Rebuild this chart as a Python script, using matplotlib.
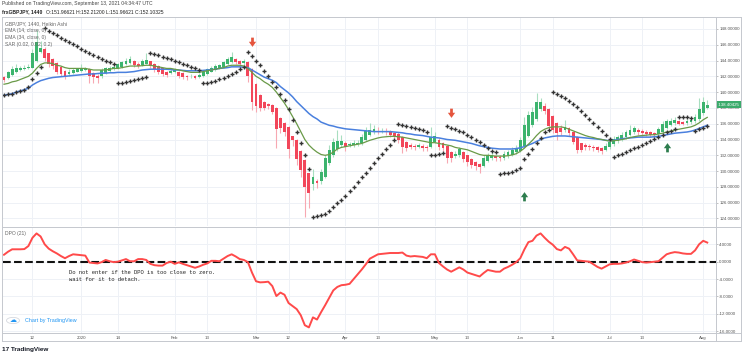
import matplotlib.pyplot as plt
from matplotlib.lines import Line2D
from matplotlib.patches import Circle
from matplotlib.path import Path
from matplotlib.transforms import blended_transform_factory
import numpy as np

plt.rcParams['font.family'] = ['Liberation Sans', 'DejaVu Sans']

# Heikin Ashi candles, one value per daily bar (Dec 2019 .. Aug 2020)
ha_open = [
    141.9, 141.8, 142.2, 142.5, 142.8, 142.9, 143.0, 143.1, 144.0, 145.1,
    145.4, 144.9, 144.2, 143.7, 143.2, 142.7, 142.3, 142.4, 142.6, 142.7,
    142.8, 142.9, 142.4, 142.1, 142.0, 142.4, 142.7, 142.9, 143.0, 143.2,
    143.5, 143.7, 144.0, 143.6, 143.4, 143.6, 143.9, 143.6, 143.3, 143.0,
    142.6, 142.4, 142.5, 142.6, 142.4, 142.1, 142.0, 142.1, 141.9, 142.0,
    142.3, 142.6, 142.8, 143.0, 143.2, 143.5, 143.8, 144.2, 144.0, 143.7,
    143.8, 142.9, 141.0, 139.6, 138.8, 138.5, 138.4, 138.0, 136.7, 136.1,
    135.6, 134.4, 134.0, 132.6, 131.4, 129.7, 128.4, 128.8, 128.7, 129.3,
    131.0, 132.0, 132.8, 133.3, 133.5, 133.25, 133.3, 133.4, 133.5, 134.0,
    134.6, 134.9, 135.1, 135.0, 135.1, 135.0, 134.8, 134.7, 134.3, 133.7,
    133.3, 133.2, 133.1, 133.2, 133.05, 133.0, 133.7, 134.0, 133.5, 133.2,
    132.4, 131.9, 132.0, 132.4, 132.0, 131.5, 131.2, 130.9, 130.7, 131.3,
    131.6, 131.9, 131.8, 131.6, 131.9, 132.1, 132.4, 132.6, 133.2, 134.5,
    135.8, 136.6, 137.8, 138.3, 137.9, 137.0, 136.1, 135.5, 135.2, 135.4,
    135.0, 134.3, 133.5, 133.3, 133.2, 133.1, 133.0, 132.9, 132.7, 133.0,
    133.4, 133.8, 134.0, 134.3, 134.6, 134.9, 135.2, 135.1, 135.0, 134.9,
    134.8, 134.7, 135.0, 135.5, 135.9, 136.1, 136.3, 136.2, 136.1, 136.2,
    136.3, 136.6, 137.3, 138.0,
]
ha_close = [
    141.5, 142.5, 142.9, 143.1, 143.0, 143.1, 143.2, 145.0, 146.3, 145.6,
    144.3, 143.5, 143.3, 142.6, 142.3, 141.9, 142.6, 142.8, 142.9, 142.9,
    143.0, 142.0, 141.9, 141.8, 142.8, 143.0, 143.1, 143.2, 143.5, 143.8,
    144.0, 144.2, 143.4, 143.3, 143.9, 144.1, 143.3, 142.9, 142.6, 142.3,
    142.2, 142.7, 142.8, 142.1, 141.9, 141.9, 142.05, 141.8, 142.2, 142.6,
    142.9, 143.1, 143.3, 143.4, 143.8, 144.2, 144.5, 143.8, 143.5, 143.9,
    142.0, 138.8, 138.2, 138.0, 138.0, 138.2, 137.5, 135.3, 135.5, 135.0,
    132.8, 133.9, 131.5, 130.2, 128.0, 127.2, 129.3, 128.5, 129.9, 131.6,
    132.7, 133.7, 133.8, 133.8, 133.0, 133.4, 133.5, 133.6, 134.3, 135.1,
    135.2, 135.3, 135.0, 135.1, 134.9, 134.6, 134.5, 133.9, 133.1, 132.9,
    133.1, 133.0, 133.3, 132.9, 132.95, 134.3, 134.4, 133.0, 132.9, 131.6,
    131.7, 132.2, 132.8, 131.5, 131.1, 130.8, 130.6, 130.5, 131.7, 132.0,
    132.0, 131.6, 131.6, 132.2, 132.4, 132.7, 132.9, 133.9, 135.8, 137.1,
    137.5, 138.8, 138.8, 137.6, 135.7, 135.2, 134.8, 135.0, 135.6, 134.8,
    133.7, 132.7, 132.7, 133.0, 133.0, 132.9, 132.7, 132.5, 133.2, 133.7,
    134.1, 134.3, 134.6, 134.9, 135.2, 135.4, 134.9, 134.8, 134.7, 134.6,
    134.6, 135.3, 136.0, 136.3, 136.3, 136.5, 136.0, 136.0, 136.3, 136.5,
    136.9, 137.9, 138.7, 138.4,
]
ha_high = [
    142.1, 142.7, 143.3, 143.6, 143.3, 143.4, 143.5, 145.5, 147.9, 146.5,
    145.7, 145.0, 144.3, 143.8, 143.3, 142.8, 142.9, 143.0, 143.1, 143.6,
    143.2, 143.1, 142.5, 142.3, 143.0, 143.2, 143.3, 143.4, 143.7, 144.0,
    144.3, 144.6, 144.1, 143.8, 144.2, 144.9, 144.0, 143.7, 143.4, 143.1,
    142.7, 142.9, 143.0, 142.7, 142.5, 142.2, 142.3, 142.2, 142.4, 142.8,
    143.1, 143.3, 143.5, 143.6, 144.0, 144.5, 145.1, 144.3, 144.1, 144.2,
    143.9, 143.0, 141.1, 139.7, 138.9, 138.6, 138.5, 138.1, 136.8, 136.2,
    135.7, 134.5, 134.1, 132.7, 131.5, 129.8, 130.3, 129.0, 130.3, 132.0,
    133.3, 134.2, 135.2, 134.6, 133.8, 133.7, 133.9, 134.0, 134.7, 135.6,
    136.1, 135.8, 135.6, 135.5, 135.4, 135.2, 135.0, 134.9, 134.4, 133.8,
    133.5, 133.4, 133.6, 133.4, 133.3, 135.6, 134.9, 134.2, 133.7, 133.3,
    132.5, 132.6, 133.1, 132.5, 132.1, 131.6, 131.3, 131.0, 132.0, 132.3,
    132.4, 132.1, 132.0, 132.5, 132.7, 133.0, 133.3, 134.3, 136.9, 137.6,
    138.15, 139.85, 139.3, 138.6, 138.0, 137.1, 136.2, 135.9, 136.5, 135.6,
    135.1, 134.4, 133.6, 133.6, 133.4, 133.3, 133.2, 133.0, 133.5, 134.0,
    134.4, 134.6, 134.9, 135.2, 135.8, 135.7, 135.4, 135.3, 135.2, 135.1,
    135.0, 135.6, 136.3, 136.6, 136.7, 136.8, 136.5, 136.4, 136.6, 136.8,
    137.2, 139.2, 139.4, 139.0,
]
ha_low = [
    141.3, 141.7, 142.1, 142.4, 142.7, 142.8, 142.9, 143.0, 143.8, 144.9,
    143.9, 143.2, 142.9, 142.3, 142.0, 141.6, 142.1, 142.3, 142.5, 142.6,
    142.7, 141.2, 141.2, 141.2, 141.8, 142.3, 142.6, 142.8, 142.9, 143.1,
    143.4, 143.6, 143.2, 143.1, 143.3, 143.5, 143.1, 142.6, 142.3, 142.0,
    141.9, 142.3, 142.4, 141.8, 141.6, 141.5, 141.8, 141.6, 141.8, 141.9,
    142.2, 142.5, 142.7, 142.9, 143.1, 143.4, 143.7, 143.5, 143.1, 143.4,
    141.3, 137.7, 137.5, 137.6, 137.7, 137.9, 137.2, 132.9, 134.8, 134.5,
    131.7, 133.2, 130.8, 129.3, 124.2, 125.3, 127.6, 127.9, 128.4, 129.1,
    130.8, 131.8, 132.6, 133.1, 132.6, 133.0, 133.1, 133.2, 133.3, 133.8,
    134.4, 134.7, 134.7, 134.8, 134.6, 134.3, 134.2, 133.6, 132.3, 132.6,
    132.8, 132.7, 132.9, 132.6, 132.6, 132.9, 133.5, 132.7, 132.5, 131.0,
    131.2, 131.6, 131.8, 131.2, 130.7, 130.4, 130.2, 129.8, 130.5, 131.1,
    131.4, 131.3, 131.3, 131.4, 131.7, 131.9, 132.2, 132.4, 133.0, 134.3,
    135.6, 136.4, 137.6, 137.2, 135.3, 134.8, 133.9, 134.6, 135.0, 134.5,
    133.4, 132.3, 132.4, 132.7, 132.7, 132.6, 132.4, 132.2, 132.5, 132.8,
    133.2, 133.6, 133.8, 134.1, 134.4, 134.7, 134.6, 134.5, 134.4, 134.3,
    134.3, 134.5, 134.8, 135.3, 135.7, 135.9, 135.8, 135.8, 135.9, 136.0,
    136.1, 136.4, 137.1, 137.8,
]

ema14 = [
    141.0, 141.1, 141.3, 141.4, 141.6, 141.8, 142.0, 142.4, 143.0, 143.5,
    143.7, 143.7, 143.6, 143.4, 143.3, 143.1, 143.0, 143.0, 143.0, 143.0,
    143.0, 142.9, 142.8, 142.8, 142.8, 142.8, 142.9, 143.0, 143.0, 143.1,
    143.2, 143.3, 143.3, 143.3, 143.35, 143.4, 143.4, 143.3, 143.2, 143.1,
    143.0, 143.0, 142.9, 142.8, 142.7, 142.6, 142.5, 142.5, 142.5, 142.6,
    142.7, 142.8, 142.9, 143.0, 143.1, 143.3, 143.4, 143.4, 143.4, 143.3,
    143.0, 142.5, 142.0, 141.7, 141.3, 141.0, 140.6, 140.0, 139.3, 138.6,
    137.8, 136.9, 136.0, 135.0, 134.0, 133.3, 132.8, 132.4, 132.1, 132.0,
    132.1, 132.4, 132.8, 133.0, 133.1, 133.2, 133.3, 133.4, 133.5, 133.7,
    133.9, 134.05, 134.2, 134.3, 134.35, 134.4, 134.4, 134.35, 134.3, 134.2,
    134.1, 134.0, 133.9, 133.8, 133.7, 133.6, 133.6, 133.5, 133.4, 133.3,
    133.2, 133.0, 132.9, 132.8, 132.7, 132.5, 132.3, 132.1, 132.0, 132.0,
    131.95, 131.9, 131.9, 131.9, 131.95, 132.05, 132.2, 132.5, 132.9, 133.4,
    133.9, 134.5, 135.0, 135.3, 135.5, 135.6, 135.6, 135.6, 135.5, 135.3,
    135.1, 134.9, 134.7, 134.5, 134.35, 134.25, 134.1, 134.0, 133.9, 133.8,
    133.85, 133.9, 134.0, 134.1, 134.25, 134.35, 134.45, 134.5, 134.55, 134.6,
    134.6, 134.7, 134.8, 134.95, 135.05, 135.2, 135.3, 135.4, 135.5, 135.6,
    135.8, 136.1, 136.5, 136.8,
]
ema34 = [
    139.6, 139.7, 139.8, 140.0, 140.15, 140.3, 140.5, 140.9, 141.2, 141.45,
    141.6, 141.75, 141.85, 141.9, 141.95, 142.0, 142.05, 142.1, 142.15, 142.2,
    142.25, 142.3, 142.3, 142.35, 142.4, 142.4, 142.45, 142.45, 142.5, 142.5,
    142.5, 142.55, 142.6, 142.7, 142.8, 142.85, 142.9, 142.9, 142.9, 142.9,
    142.9, 142.85, 142.8, 142.8, 142.75, 142.7, 142.7, 142.7, 142.7, 142.75,
    142.8, 142.85, 142.9, 143.0, 143.05, 143.1, 143.2, 143.2, 143.2, 143.15,
    143.1, 142.8, 142.5, 142.2, 141.9, 141.7, 141.5, 141.2, 140.7, 140.3,
    139.9, 139.4, 138.8, 138.3, 137.8, 137.3, 136.9, 136.6, 136.2, 136.0,
    135.8, 135.7, 135.55, 135.45, 135.35, 135.3, 135.25, 135.2, 135.15, 135.1,
    135.05, 135.0, 135.0, 135.0, 135.0, 135.0, 134.95, 134.9, 134.85, 134.75,
    134.7, 134.6, 134.55, 134.5, 134.4, 134.3, 134.25, 134.2, 134.1, 134.0,
    133.95, 133.9, 133.8, 133.7, 133.6, 133.5, 133.35, 133.2, 133.1, 133.0,
    132.9, 132.85, 132.8, 132.8, 132.8, 132.8, 132.85, 132.95, 133.1, 133.3,
    133.5, 133.75, 134.0, 134.2, 134.3, 134.4, 134.45, 134.45, 134.45, 134.4,
    134.35, 134.3, 134.25, 134.2, 134.15, 134.1, 134.05, 134.0, 133.9, 133.85,
    133.9, 134.0, 134.1, 134.15, 134.2, 134.25, 134.3, 134.3, 134.3, 134.3,
    134.35, 134.4, 134.5, 134.6, 134.7, 134.8, 134.85, 134.9, 134.95, 135.05,
    135.2, 135.4, 135.6, 135.8,
]
sar = [
    139.6, 139.7, 139.8, 140.0, 140.1, 140.3, 140.6, 141.7, 142.4, 143.2,
    148.1, 147.8, 147.5, 147.2, 146.9, 146.6, 146.3, 146.05, 145.8, 145.5,
    145.25, 145.0, 144.75, 144.5, 144.25, 144.0, 143.75, 143.5, 141.1, 141.2,
    141.3, 141.4, 141.5, 141.6, 141.75, 141.9, 144.9, 144.8, 144.65, 144.5,
    144.35, 144.2, 144.0, 143.8, 143.6, 143.4, 143.2, 143.0, 142.75, 141.1,
    141.2, 141.3, 141.45, 141.6, 141.8, 142.0, 142.3, 142.6, 142.9, 143.2,
    145.1, 144.6, 144.0, 143.4, 142.7, 142.0, 141.3, 140.6, 139.8, 139.0,
    137.8, 136.5, 135.0, 133.5, 132.0, 130.3, 124.2, 124.3, 124.45, 124.6,
    124.9, 125.4, 125.9, 126.4, 126.9, 127.5, 128.0, 128.6, 129.2, 129.8,
    130.4, 131.0, 131.6, 132.2, 132.8, 133.3, 133.9, 136.0, 135.9, 135.75,
    135.6, 135.45, 135.3, 135.15, 135.0, 132.0, 132.1, 132.2, 132.3, 135.7,
    135.5, 135.3, 135.1, 134.9, 134.6, 134.3, 134.0, 133.7, 133.3, 132.9,
    132.6, 132.4, 129.65, 129.7, 129.8, 129.9, 130.1, 130.4, 131.5, 132.2,
    132.8, 133.5, 134.2, 134.9, 135.2, 140.0, 139.8, 139.5, 139.2, 138.9,
    138.5, 138.1, 137.6, 137.1, 136.6, 136.1, 135.6, 135.1, 134.6, 134.1,
    131.8, 132.0, 132.2, 132.4, 132.65, 132.9, 133.1, 133.35, 133.6, 133.8,
    134.05, 134.3, 134.6, 134.9, 135.1, 135.35, 136.9, 136.85, 136.8, 136.75,
    135.1, 135.3, 135.5, 135.7,
]
dpo = [
    1.6, 2.3, 2.85, 2.85, 2.85, 2.9, 3.6, 5.5, 6.5, 5.8,
    4.0, 3.0, 2.4, 1.9, 1.3, 0.8, 1.3, 1.7, 1.6, 1.5,
    1.4, -0.2, -0.3, -0.4, -0.1, 0.4, 0.1, -0.1, 0.0, 0.3,
    0.6, 0.1, 0.1, 0.6, 0.6, 0.4, -0.5, -0.8, -0.9, -0.9,
    -0.3, 0.0, -0.5, -0.15, -0.5, -0.8, -1.1, -1.4, -1.1, -0.7,
    -0.4, 0.2, 0.2, 0.1, 0.7, 1.3, 1.7, 1.2, 0.6, 0.4,
    -0.1, -2.5, -4.5, -4.75, -4.7, -4.6, -5.6, -7.9, -7.1, -7.6,
    -9.5, -10.2, -10.9, -12.3, -14.6, -15.1, -12.8, -13.3, -11.6, -10.0,
    -8.3, -6.6, -5.8, -5.4, -5.3, -5.1, -4.0, -2.9, -1.8, -0.6,
    0.7, 1.2, 1.7, 1.8, 1.9, 2.0, 2.0, 2.0, 2.1, 1.4,
    1.2, 1.3, 1.2, 1.1, 0.8, 1.7, 1.7, -0.3, -1.1, -1.8,
    -2.3, -1.8, -1.3, -1.8, -2.5, -2.8, -3.1, -3.4, -2.6, -1.9,
    -2.1, -2.3, -2.3, -1.6, -1.2, -0.7, -0.1, 0.8, 2.8, 4.5,
    4.8, 6.0, 6.5, 5.5, 4.6, 3.9, 2.9, 2.6, 3.4, 3.0,
    1.7, 0.3, 0.2, 0.1, 0.0, -0.6, -1.2, -1.6, -1.1, -0.6,
    -0.5, -0.5, -0.4, -0.2, 0.1, 0.5, 0.2, -0.1, -0.2, -0.1,
    0.0, 0.1, 0.9, 1.7, 2.0, 2.2, 2.1, 1.9, 1.8, 1.8,
    2.6, 4.0, 4.8, 4.4,
]

# signal arrows (bar index, price)
sell_idx = [61, 110]
sell_price = [146.4, 137.4]
buy_idx = [128, 163]
buy_price = [126.85, 133.05]

tick_pos = [7, 19, 28, 42, 50, 62, 70, 84, 92, 106, 114, 127, 135, 149, 157, 172]
tick_labels = ['12', '2020', '14', 'Feb', '13', 'Mar', '12', 'Apr', '13', 'May',
               '13', 'Jun', '11', 'Jul', '13', 'Aug']
price_ticks = list(range(124, 149, 2))
dpo_ticks = [-16, -12, -8, -4, 0, 4]
last_price = 138.40425

W, H = 743, 356
fig = plt.figure(figsize=(W / 100, H / 100), dpi=100)


def fx(px):
    return px / W


def fy(py):
    return 1 - py / H


ax = fig.add_axes([fx(3), fy(226), (716 - 3) / W, (226 - 17) / H])
ax2 = fig.add_axes([fx(3), fy(333), (716 - 3) / W, (333 - 227.5) / H])

grid_c = '#eef1f6'
lab_c = '#555555'
for a in (ax, ax2):
    a.set_xlim(-0.25, 175.15)
    for s in a.spines.values():
        s.set_visible(False)
    a.set_xticks(tick_pos)
    a.grid(True, color=grid_c, lw=0.7)
    a.set_axisbelow(True)
    a.yaxis.tick_right()
    a.tick_params(axis='y', length=1.5, width=0.5, color='#aaaaaa',
                  labelsize=3.2, labelcolor=lab_c, pad=0.8)

ax.tick_params(axis='x', length=0, labelbottom=False)
ax2.set_xticklabels(tick_labels)
ax2.tick_params(axis='x', length=0, labelsize=3.2, labelcolor=lab_c, pad=2.2)

# ---- price pane
ax.set_ylim(123.05, 149.51)
ax.set_yticks(price_ticks)
ax.set_yticklabels([f'{p:.5f}' for p in price_ticks])

idx = np.arange(len(ha_close))
o = np.array(ha_open)
c = np.array(ha_close)
up = c >= o
body_col = np.where(up, '#3cb46e', '#f2465a')
wick_col = np.where(up, '#a8dec0', '#f7a8b2')
ax.vlines(idx, ha_low, ha_high, colors=wick_col, lw=0.8, zorder=2)
ax.bar(idx, np.maximum(np.abs(c - o), 0.07), bottom=np.minimum(o, c),
       width=0.7, color=body_col, zorder=3)

ax.plot(idx, ema34, color='#4a80de', lw=1.1, zorder=4)
ax.plot(idx, ema14, color='#6a9a48', lw=0.9, zorder=4)
ax.plot(idx, sar, ls='none', marker='+', ms=3.5, mew=1.0,
        color='#333333', zorder=5)

down = Path([(-0.28, 1), (0.28, 1), (0.28, 0.15), (0.75, 0.15), (0, -0.9),
             (-0.75, 0.15), (-0.28, 0.15), (-0.28, 1)], closed=True)
upa = Path([(-0.28, -1), (0.28, -1), (0.28, -0.15), (0.75, -0.15), (0, 0.9),
            (-0.75, -0.15), (-0.28, -0.15), (-0.28, -1)], closed=True)
ax.plot(sell_idx, sell_price, ls='none', marker=down, ms=7,
        color='#e5553d', mew=0, zorder=6)
ax.plot(buy_idx, buy_price, ls='none', marker=upa, ms=7,
        color='#2d7d4e', mew=0, zorder=6)

tr = blended_transform_factory(ax.transAxes, ax.transData)
ax.text(1.002, last_price, ' 138.40425 ', transform=tr, ha='left', va='center',
        fontsize=3.2, color='white', clip_on=False, zorder=10,
        bbox=dict(facecolor='#3bab6b', edgecolor='none', pad=1.2))

# ---- DPO pane
ax2.set_ylim(-16.39, 7.86)
ax2.set_yticks(dpo_ticks)
ax2.set_yticklabels([f'{v:.4f}' for v in dpo_ticks])
ax2.axhline(0, color='#111111', lw=1.5, ls=(0, (3.7, 1.6)), zorder=3)
ax2.plot(idx, dpo, color='#ff4a4a', lw=1.4, zorder=4)

mono = dict(family=['Liberation Mono', 'DejaVu Sans Mono'], fontsize=4.0,
            color='#222222', va='center')
fig.text(fx(69), fy(272.7), 'Do not enter if the DPO is too close to zero.', **mono)
fig.text(fx(69), fy(279.3), 'wait for it to detach.', **mono)

# ---- texts
fig.text(fx(2), fy(4), 'Published on TradingView.com, September 13, 2021 04:34:47 UTC',
         fontsize=3.6, color='#444444', va='center')
fig.text(fx(2), fy(12), 'frxGBPJPY, 1440', fontsize=3.6, color='#222222',
         weight='bold', va='center')
fig.text(fx(46), fy(12), 'O:151.96621 H:152.21200 L:151.96621 C:152.10325',
         fontsize=3.6, color='#222222', va='center')

legend_lines = ['GBP/JPY, 1440, Heikin Ashi', 'EMA (14, close, 0)',
                'EMA (34, close, 0)', 'SAR (0.02, 0.02, 0.2)']
for k, t in enumerate(legend_lines):
    fig.text(fx(5), fy(23.3 + k * 7.0), t, fontsize=3.6, color='#666666',
             va='center')
fig.text(fx(5), fy(234), 'DPO (21)', fontsize=3.6, color='#666666', va='center')

fig.add_artist(Circle((fx(13), fy(320.5)), 6.5 / W, transform=fig.transFigure,
                      facecolor='white', edgecolor='#d5d8de', lw=0.6))
fig.text(fx(13), fy(320.5), '\u2601', fontsize=5, color='#2196f3',
         ha='center', va='center', family='DejaVu Sans')
fig.text(fx(25), fy(320.5), 'Chart by TradingView', fontsize=3.9,
         color='#2196f3', va='center')

fig.text(fx(2.5), fy(349), '17 TradingView', fontsize=4.6, color='#131722',
         weight='bold', va='center')

# ---- frame lines
fr = '#c5c8ce'
for (x0, y0, x1, y1) in [(2, 17, 741, 17), (2, 341, 741, 341), (2, 17, 2, 341),
                         (741, 17, 741, 341), (716, 17, 716, 341),
                         (2, 227, 741, 227), (2, 333, 741, 333)]:
    fig.add_artist(Line2D([fx(x0), fx(x1)], [fy(y0), fy(y1)], color=fr, lw=0.7,
                          transform=fig.transFigure))

fig.savefig('out.png', dpi=100, facecolor='white')
